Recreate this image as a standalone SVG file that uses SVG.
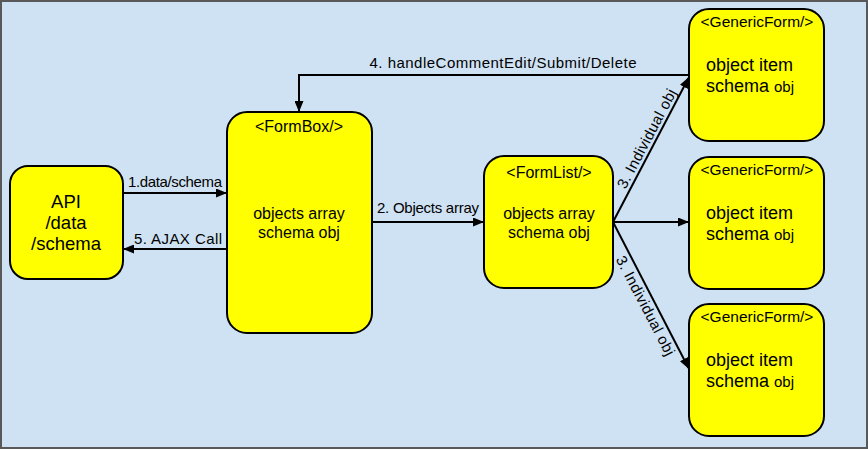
<svg xmlns="http://www.w3.org/2000/svg" width="868" height="449" viewBox="0 0 868 449">
<style>
.node{fill:#ffff00;stroke:#000;stroke-width:2}
.t{font-family:"Liberation Sans",Arial,sans-serif;fill:#000}
.lbl{font-family:"Liberation Sans",Arial,sans-serif;font-size:15px;fill:#000}
.edge{fill:none;stroke:#000;stroke-width:2}
</style>
<defs>
<marker id="ah" markerUnits="userSpaceOnUse" markerWidth="11" markerHeight="9" refX="10" refY="4.5" orient="auto">
<path d="M0,0 L11,4.5 L0,9 z" fill="#000"/>
</marker>
</defs>
<rect x="1" y="1" width="866" height="447" fill="#cfe2f3" stroke="#595959" stroke-width="2"/>
<g id="connectors">
<line class="edge" x1="123" y1="193" x2="226" y2="193" marker-end="url(#ah)"/>
<text class="lbl" x="175" y="187" text-anchor="middle" textLength="94">1.data/schema</text>
<line class="edge" x1="227" y1="249" x2="124" y2="249" marker-end="url(#ah)"/>
<text class="lbl" x="178" y="244" text-anchor="middle" textLength="88">5. AJAX Call</text>
<line class="edge" x1="372" y1="222" x2="483" y2="222" marker-end="url(#ah)"/>
<text class="lbl" x="428" y="213" text-anchor="middle" textLength="102">2. Objects array</text>
<polyline class="edge" points="689,75 299,75 299,111" marker-end="url(#ah)"/>
<text class="lbl" x="503" y="68" text-anchor="middle" textLength="267">4. handleCommentEdit/Submit/Delete</text>
<line class="edge" x1="613" y1="222" x2="688.5" y2="78" marker-end="url(#ah)"/>
<line class="edge" x1="613" y1="222" x2="688" y2="222" marker-end="url(#ah)"/>
<line class="edge" x1="613" y1="222" x2="688.5" y2="368" marker-end="url(#ah)"/>
<text class="lbl" transform="translate(651,150) rotate(-62.2)" x="8" y="-4" text-anchor="middle" textLength="110">3. Individual obj</text>
<text class="lbl" transform="translate(651,295) rotate(62.5)" x="7" y="15" text-anchor="middle" textLength="110">3. Individual obj</text>
</g>
<g id="api">
<rect class="node" x="10" y="166" width="113" height="113" rx="18"/>
<text class="t" font-size="18.5" text-anchor="middle"><tspan x="66" y="208">API</tspan><tspan x="66" y="229">/data</tspan><tspan x="66" y="250">/schema</tspan></text>
</g>
<g id="formbox">
<rect class="node" x="227" y="112" width="145" height="221" rx="20"/>
<text class="t" font-size="16" x="299" y="132" text-anchor="middle">&lt;FormBox/&gt;</text>
<text class="t" font-size="16" text-anchor="middle"><tspan x="299" y="219">objects array</tspan><tspan x="299" y="238">schema obj</tspan></text>
</g>
<g id="formlist">
<rect class="node" x="484" y="156" width="129" height="132" rx="20"/>
<text class="t" font-size="16" x="549" y="178" text-anchor="middle">&lt;FormList/&gt;</text>
<text class="t" font-size="16" text-anchor="middle"><tspan x="549" y="219">objects array</tspan><tspan x="549" y="238">schema obj</tspan></text>
</g>
<g id="genericform1">
<rect class="node" x="689" y="9" width="135" height="132" rx="20"/>
<text class="t" font-size="15.5" x="757" y="27" text-anchor="middle">&lt;GenericForm/&gt;</text>
<text class="t" font-size="18" x="706" y="71">object item</text>
<text class="t" font-size="18" x="706" y="92">schema <tspan font-size="15">obj</tspan></text>
</g>
<g id="genericform2">
<rect class="node" x="689" y="157" width="135" height="132" rx="20"/>
<text class="t" font-size="15.5" x="757" y="175" text-anchor="middle">&lt;GenericForm/&gt;</text>
<text class="t" font-size="18" x="706" y="219">object item</text>
<text class="t" font-size="18" x="706" y="240">schema <tspan font-size="15">obj</tspan></text>
</g>
<g id="genericform3">
<rect class="node" x="689" y="304" width="135" height="132" rx="20"/>
<text class="t" font-size="15.5" x="757" y="322" text-anchor="middle">&lt;GenericForm/&gt;</text>
<text class="t" font-size="18" x="706" y="366">object item</text>
<text class="t" font-size="18" x="706" y="387">schema <tspan font-size="15">obj</tspan></text>
</g>
</svg>
